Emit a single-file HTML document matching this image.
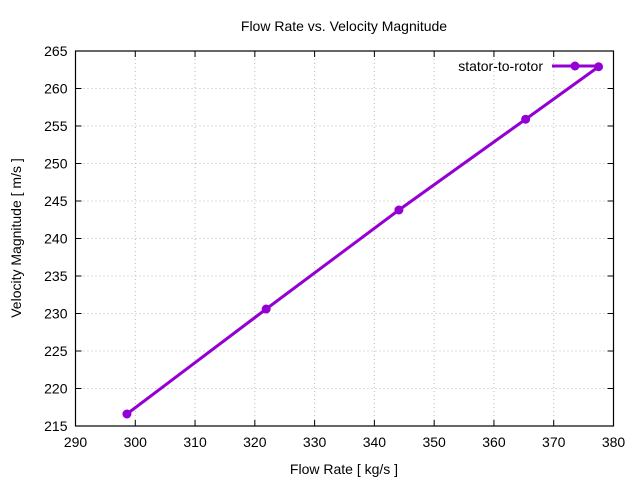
<!DOCTYPE html>
<html><head><meta charset="utf-8"><style>
body{margin:0;background:#fff;}
svg{display:block;font-family:"Liberation Sans",sans-serif;}
</style></head><body>
<svg id="chart" width="640" height="480">
<text x="344" y="31" font-size="14" text-anchor="middle">Flow Rate vs. Velocity Magnitude</text>
<g id="grid"></g>
<g id="axes"></g>
<text x="344" y="474" font-size="14" text-anchor="middle">Flow Rate [ kg/s ]</text>
<text transform="translate(21,238) rotate(-90)" font-size="14" text-anchor="middle">Velocity Magnitude [ m/s ]</text>
<g id="series"></g>
<g>
<text x="543" y="71" font-size="14" text-anchor="end">stator-to-rotor</text>
<line x1="552" y1="66" x2="598" y2="66" stroke="#9400d3" stroke-width="3"/>
<circle cx="575" cy="66" r="4.5" fill="#9400d3"/>
</g>
</svg>
<script>
const xTicks=[290,300,310,320,330,340,350,360,370,380];
const yTicks=[215,220,225,230,235,240,245,250,255,260,265];
const flowRate=[298.6,321.9,344.1,365.3,377.5];
const velocity=[216.6,230.6,243.8,255.9,262.9];
const L=75.5,R=613.5,T=51,B=426;
const sx=v=>L+(v-290)/90*(R-L);
const sy=v=>B-(v-215)/50*(B-T);
const NS="http://www.w3.org/2000/svg";
function mk(tag,attrs,parent){const e=document.createElementNS(NS,tag);for(const k in attrs)e.setAttribute(k,attrs[k]);parent.appendChild(e);return e;}
const grid=document.getElementById('grid'),axes=document.getElementById('axes'),series=document.getElementById('series');
xTicks.forEach(t=>{const x=sx(t);
 if(t>290&&t<380){const g=mk('line',{x1:x,y1:T,x2:x,y2:B,stroke:'#bbb','stroke-width':1,'stroke-dasharray':'1,3'},grid);
 
 }
 const tk=mk('path',{d:`M${x},${B}v-6M${x},${T}v6`,stroke:'#000','stroke-width':1},axes);
 
 
 const lb=mk('text',{x:x,y:B+21,'font-size':14,'text-anchor':'middle'},axes);lb.textContent=t;
 
 
});
yTicks.forEach(t=>{const y=sy(t);
 if(t>215&&t<265){const g=mk('line',{x1:L,y1:y,x2:R,y2:y,stroke:'#bbb','stroke-width':1,'stroke-dasharray':'1,3'},grid);
 
 }
 const tk=mk('path',{d:`M${L},${y}h6M${R},${y}h-6`,stroke:'#000','stroke-width':1},axes);
 
 
 const lb=mk('text',{x:L-8,y:y+5,'font-size':14,'text-anchor':'end'},axes);lb.textContent=t;
 
 
});
const fr=mk('rect',{x:L,y:T,width:R-L,height:B-T,fill:'none',stroke:'#000','stroke-width':1.2},axes);


const pl=mk('polyline',{points:flowRate.map((v,i)=>sx(v)+','+sy(velocity[i])).join(' '),fill:'none',stroke:'#9400d3','stroke-width':3},series);


flowRate.forEach((v,i)=>{const c=mk('circle',{cx:sx(v),cy:sy(velocity[i]),r:4.5,fill:'#9400d3'},series);
 
 });
</script>
</body></html>
